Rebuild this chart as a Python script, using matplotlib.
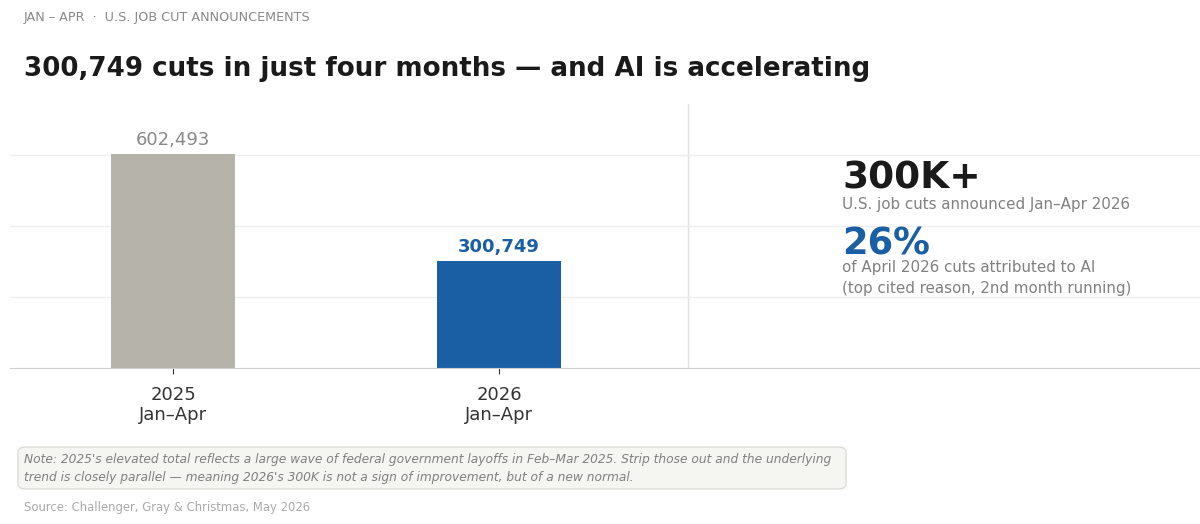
import numpy as np
import matplotlib.pyplot as plt
from matplotlib.patches import FancyBboxPatch

years = ["2025\nJan–Apr", "2026\nJan–Apr"]
cuts = [602493, 300749]
value_labels = ["602,493", "300,749"]
colors = ["#b5b3aa", "#1a5ea4"]

plt.rcParams['font.family'] = ['DejaVu Sans']

fig = plt.figure(figsize=(12, 5.24), dpi=100)
ax = fig.add_axes([10/1200, 1 - 368/524, 1190/1200, (368-104)/524])

x = np.arange(len(cuts))
ax.bar(x, cuts, width=0.38, color=colors, zorder=2)
ax.set_xlim(-0.5, 3.15)
ax.set_ylim(0, 743000)

ax.text(x[0], cuts[0] + 15000, value_labels[0], ha='center', va='bottom',
        fontsize=13, color='#888888')
ax.text(x[1], cuts[1] + 15000, value_labels[1], ha='center', va='bottom',
        fontsize=13, color='#1a5ea4', fontweight='bold')

ax.set_yticks([200000, 400000, 600000])
ax.yaxis.grid(True, color='#eeeeee', linewidth=1, zorder=0)
ax.tick_params(axis='y', left=False, labelleft=False)
ax.set_xticks(x)
ax.set_xticklabels(years, fontsize=13, color='#333333', linespacing=1.15)
ax.tick_params(axis='x', length=4, color='#333333', pad=9)
for s in ['left', 'right', 'top']:
    ax.spines[s].set_visible(False)
ax.spines['bottom'].set_color('#d0d0d0')
ax.axvline(1.58, color='#e2e2e2', linewidth=1, zorder=1)

# header
fig.text(24/1200, 1 - 17/524, "JAN – APR  ·  U.S. JOB CUT ANNOUNCEMENTS", fontsize=9.2,
         color='#888888', va='center')
fig.text(24/1200, 1 - 69/524, "300,749 cuts in just four months — and AI is accelerating",
         fontsize=18.8, fontweight='bold', color='#1a1a1a', va='center')

# right panel
px = 842/1200
fig.text(px, 1 - 178/524, "300K+", fontsize=27, fontweight='bold', color='#1a1a1a', va='center')
fig.text(px, 1 - 205/524, "U.S. job cuts announced Jan–Apr 2026", fontsize=10.9,
         color='#808080', va='center')
fig.text(px, 1 - 244/524, "26%", fontsize=26.5, fontweight='bold', color='#1a5ea4', va='center')
fig.text(px, 1 - 278/524, "of April 2026 cuts attributed to AI\n(top cited reason, 2nd month running)",
         fontsize=10.9, color='#808080', va='center', linespacing=1.45)

# note box
box = FancyBboxPatch((18/1200, 1 - 489/524), (846-18)/1200, (489-447)/524,
                     boxstyle="round,pad=0,rounding_size=0.008", transform=fig.transFigure,
                     facecolor='#f5f5f2', edgecolor='#dcdcd8', linewidth=1)
fig.patches.append(box)
fig.text(24/1200, 1 - 468/524,
         "Note: 2025's elevated total reflects a large wave of federal government layoffs in Feb–Mar 2025. "
         "Strip those out and the underlying\ntrend is closely parallel — meaning 2026's 300K is not a sign "
         "of improvement, but of a new normal.",
         fontsize=8.85, style='italic', color='#808080', va='center', linespacing=1.5)
fig.text(24/1200, 1 - 508/524, "Source: Challenger, Gray & Christmas, May 2026", fontsize=8.4,
         color='#aaaaaa', va='center')

fig.savefig("out.png", dpi=100)
